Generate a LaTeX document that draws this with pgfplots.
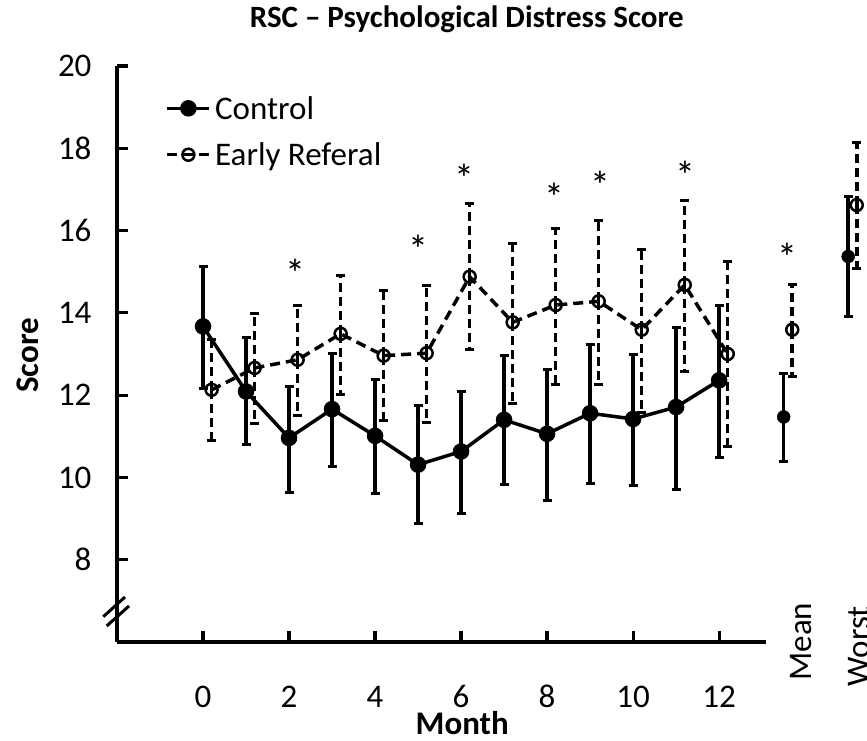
\documentclass[border=0pt]{standalone}
\usepackage{fontspec}
\setmainfont{Carlito}
\usepackage{pgfplots}
\pgfplotsset{compat=1.18}
\usepackage{pgfplotstable}

\pgfplotstableread{
x y lo hi
0 13.67 12.17 15.12
1 12.09 10.79 13.39
2 10.96 9.64 12.20
3 11.66 10.27 13.00
4 11.01 9.60 12.37
5 10.31 8.89 11.74
6 10.63 9.13 12.09
7 11.40 9.84 12.96
8 11.06 9.45 12.63
9 11.56 9.86 13.24
10 11.42 9.80 12.98
11 11.71 9.70 13.65
12 12.36 10.49 14.19
}\control
\pgfplotstableread{
x y lo hi
13.5 11.47 10.39 12.52
15.0 15.37 13.91 16.83
}\controlsum
\pgfplotstableread{
x y lo hi
0.2 12.13 10.90 13.36
1.2 12.66 11.30 13.99
2.2 12.86 11.50 14.19
3.2 13.49 12.01 14.92
4.2 12.96 11.38 14.54
5.2 13.02 11.34 14.66
6.2 14.88 13.10 16.65
7.2 13.77 11.79 15.69
8.2 14.19 12.25 16.04
9.2 14.28 12.25 16.24
10.2 13.59 11.58 15.55
11.2 14.68 12.57 16.73
12.2 13.00 10.75 15.26
}\early
\pgfplotstableread{
x y lo hi
13.7 13.59 12.45 14.70
15.2 16.62 15.09 18.14
}\earlysum

\newcommand{\bigf}{\fontsize{33}{40}\selectfont}

\begin{document}
\begin{tikzpicture}
\path[use as bounding box] (-117pt,-99pt) rectangle (750pt,642pt);
\begin{axis}[
  scale only axis, width=649pt, height=576pt,
  xmin=-2, xmax=13.09, ymin=6, ymax=20,
  axis lines=left,
  axis line style={-, line width=3.2pt, black},
  xtick={0,2,...,12}, ytick={8,10,...,20},
  tick align=inside, major tick length=11pt,
  tick style={line width=3.2pt, black},
  /pgf/number format/assume math mode=true,
  tick label style={font=\bigf},
  xticklabel style={anchor=base, yshift=-66pt},
  yticklabel style={xshift=-22pt},
  clip=false,
  title={RSC -- Psychological Distress Score},
  title style={font=\fontsize{31}{36}\selectfont\bfseries, at={(0.539,1.0556)}, anchor=base},
  xlabel={Month},
  xlabel style={font=\bigf\bfseries, at={(0.532,-0.14)}, anchor=center},
  ylabel={Score},
  ylabel style={font=\bigf\bfseries, at={(-0.137,0.498)}, anchor=center},
  legend style={at={(0.07,0.955)}, anchor=north west, draw=none, fill=none, font=\bigf, row sep=18pt,
    nodes={inner xsep=4pt}},
  legend cell align=left,
  legend image code/.code={\draw[mark repeat=2,mark phase=2,#1] plot coordinates {(0pt,0pt)(21pt,0pt)(42pt,0pt)};},
]
\addplot[black, line width=3.5pt, mark=*, mark size=6.5pt,
  error bars/.cd, y dir=both, y explicit,
  error bar style={line width=3.5pt, solid},
  error mark options={line width=3pt, mark size=4.5pt, rotate=90}]
  table[x=x, y=y, y error plus expr=\thisrow{hi}-\thisrow{y}, y error minus expr=\thisrow{y}-\thisrow{lo}] {\control};
\addlegendentry{Control}
\addplot[black, line width=3.5pt, dash pattern=on 10pt off 6pt, mark=o, mark size=6pt, mark options={solid, line width=2.5pt},
  error bars/.cd, y dir=both, y explicit,
  error bar style={line width=3.5pt, dash pattern=on 9pt off 5pt},
  error mark options={solid, line width=3pt, mark size=4.5pt, rotate=90}]
  table[x=x, y=y, y error plus expr=\thisrow{hi}-\thisrow{y}, y error minus expr=\thisrow{y}-\thisrow{lo}] {\early};
\addlegendentry{Early Referal}
\addplot[forget plot, black, only marks, mark=*, mark size=6.5pt,
  error bars/.cd, y dir=both, y explicit,
  error bar style={line width=3.5pt, solid},
  error mark options={line width=3pt, mark size=4.5pt, rotate=90}]
  table[x=x, y=y, y error plus expr=\thisrow{hi}-\thisrow{y}, y error minus expr=\thisrow{y}-\thisrow{lo}] {\controlsum};
\addplot[forget plot, black, only marks, mark=o, mark size=6pt, mark options={solid, line width=2.5pt},
  error bars/.cd, y dir=both, y explicit,
  error bar style={line width=3.5pt, dash pattern=on 9pt off 5pt},
  error mark options={solid, line width=3pt, mark size=4.5pt, rotate=90}]
  table[x=x, y=y, y error plus expr=\thisrow{hi}-\thisrow{y}, y error minus expr=\thisrow{y}-\thisrow{lo}] {\earlysum};
\addplot[forget plot, only marks, mark=text, text mark={*}, text mark as node=true,
  text mark style={font=\fontsize{40}{44}\selectfont, anchor=center}]
  coordinates {(2.15,14.95) (5.0,15.54) (6.07,17.27) (8.17,16.81) (9.24,17.09) (11.21,17.35) (13.6,15.35)};
\draw[line width=3pt] ([xshift=-13.7pt,yshift=25.3pt]axis cs:-2,6) -- ([xshift=8pt,yshift=45pt]axis cs:-2,6);
\draw[line width=3pt] ([xshift=-10.3pt,yshift=16pt]axis cs:-2,6) -- ([xshift=12pt,yshift=36pt]axis cs:-2,6);
\node[rotate=90, font=\bigf, anchor=center] at (axis cs:13.9,6.01) {Mean};
\node[rotate=90, font=\bigf, anchor=center] at (axis cs:15.26,5.9) {Worst};
\end{axis}
\end{tikzpicture}
\end{document}
